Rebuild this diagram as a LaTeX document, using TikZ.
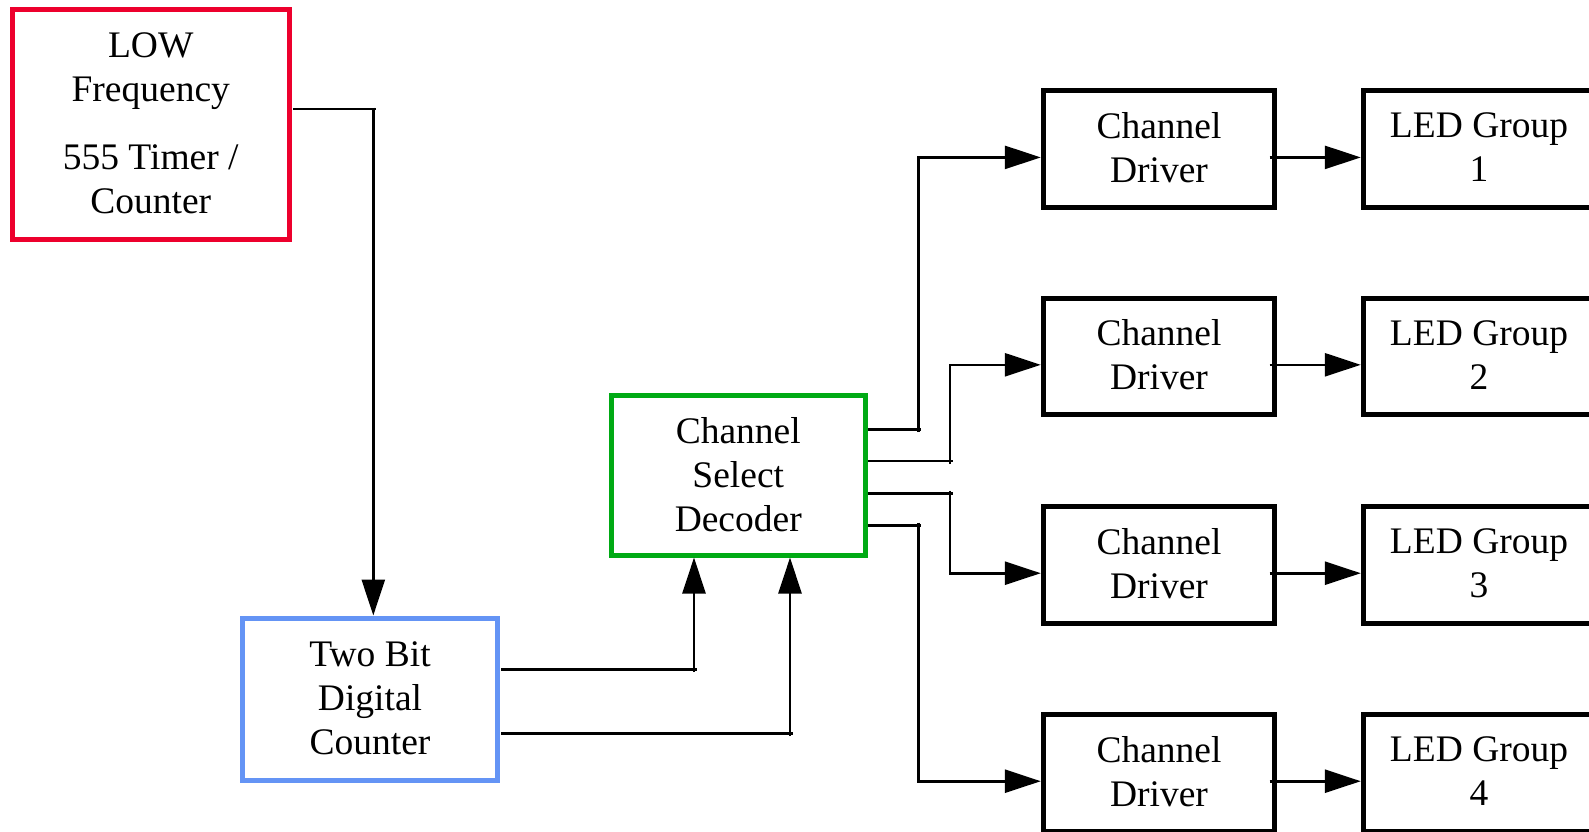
\documentclass[tikz,border=0pt]{standalone}
\usepackage{fontspec}
\setmainfont{Liberation Serif}
\usetikzlibrary{arrows.meta}
\definecolor{timerred}{RGB}{237,0,45}
\definecolor{counterblue}{RGB}{100,148,245}
\definecolor{decodergreen}{RGB}{0,170,20}
\tikzset{
  block/.style={draw, line width=5pt, align=center, inner sep=0pt,
    font=\fontsize{37.5}{44}\selectfont, text depth=2pt},
  drvbox/.style={block, minimum width=231.4pt, minimum height=116.5pt, text depth=4pt},
  wire/.style={line width=2.6pt},
  arr/.style={wire, -{Triangle[length=36pt,width=23pt]}},
}
\begin{document}
\begin{tikzpicture}[x=1pt,y=-1pt]
\useasboundingbox (0,0) rectangle (1589,831);
\fill[white] (0,0) rectangle (1589,831);
\clip (0,0) rectangle (1589,831);

% main blocks
\node[block, draw=timerred, minimum width=276.5pt, minimum height=229.2pt]
  (timer) at (150.75,124.4) {LOW\\Frequency\\[24pt]555 Timer /\\Counter};
\node[block, draw=counterblue, minimum width=255pt, minimum height=162pt]
  (counter) at (370,699) {Two Bit\\Digital\\Counter};
\node[block, draw=decodergreen, minimum width=254.5pt, minimum height=160pt]
  (decoder) at (738.25,475) {Channel\\Select\\Decoder};

% driver and LED group columns
\foreach \i/\y in {1/149.2, 2/356.6, 3/565, 4/773} {
  \node[drvbox] (drv\i) at (1159,\y) {Channel\\Driver};
  \node[drvbox] (led\i) at (1479,\y) {LED Group\\\i};
  \draw[arr] ([xshift=-7.5pt,yshift=-8.2pt]drv\i.east) -- ([yshift=-8.2pt]led\i.west);
}

% clock into the counter
\coordinate (r0) at (293,109);
\coordinate (r1) at (375.8,109);
\coordinate (r2) at (373.3,107.7);
\draw[wire] (r0) -- (r1);
\draw[arr] (r2) -- (r2 |- counter.north);

% two counter bits into the decoder
\coordinate (b0) at (501,669.3);
\coordinate (b1) at (696.5,669.3);
\coordinate (b2) at (694,672);
\draw[wire] (b0) -- (b1);
\draw[arr] (b2) -- (b2 |- decoder.south);
\coordinate (c0) at (501,733.3);
\coordinate (c1) at (792.5,733.3);
\coordinate (c2) at (790,736);
\draw[wire] (c0) -- (c1);
\draw[arr] (c2) -- (c2 |- decoder.south);

% decoder outputs to the channel drivers
\coordinate (g10) at (868,429.3);
\coordinate (g11) at (920.5,429.3);
\coordinate (g12) at (918.3,432);
\draw[wire] (g10) -- (g11);
\draw[arr] (g12) |- ([yshift=-8.2pt]drv1.west);

\coordinate (g20) at (868,461);
\coordinate (g21) at (952.5,461);
\coordinate (g22) at (950,464);
\draw[wire] (g20) -- (g21);
\draw[arr] (g22) |- ([yshift=-8.2pt]drv2.west);

\coordinate (g30) at (868,493.3);
\coordinate (g31) at (952.5,493.3);
\coordinate (g32) at (950,490.5);
\draw[wire] (g30) -- (g31);
\draw[arr] (g32) |- ([yshift=-8.2pt]drv3.west);

\coordinate (g40) at (868,525.3);
\coordinate (g41) at (920.5,525.3);
\coordinate (g42) at (918.3,522.5);
\draw[wire] (g40) -- (g41);
\draw[arr] (g42) |- ([yshift=-8.2pt]drv4.west);
\end{tikzpicture}
\end{document}
